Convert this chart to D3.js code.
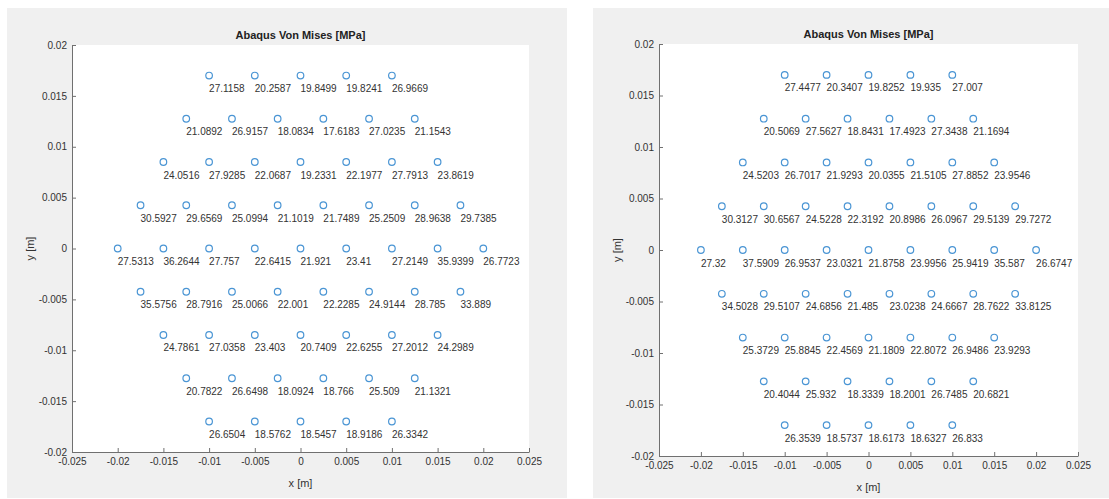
<!DOCTYPE html>
<html>
<head>
  <meta charset="utf-8" />
  <title>Abaqus Von Mises</title>
  <style>
    body { margin: 0; background: #fff; }
    svg { display: block; font-family: "Liberation Sans", Arial, sans-serif; }
  </style>
</head>
<body>
  <svg id="svg" width="1109" height="499"></svg>
  <script src="https://d3js.org/d3.v7.min.js"></script>
  <script>
    // node coordinates, one array per row of the mesh [m]
    const rowY = [0.017, 0.01275, 0.0085, 0.00425, 0, -0.00425, -0.0085, -0.01275, -0.017]
    const rowX = [
      [-0.01, -0.005, 0, 0.005, 0.01],
      [-0.0125, -0.0075, -0.0025, 0.0025, 0.0075, 0.0125],
      [-0.015, -0.01, -0.005, 0, 0.005, 0.01, 0.015],
      [-0.0175, -0.0125, -0.0075, -0.0025, 0.0025, 0.0075, 0.0125, 0.0175],
      [-0.02, -0.015, -0.01, -0.005, 0, 0.005, 0.01, 0.015, 0.02],
      [-0.0175, -0.0125, -0.0075, -0.0025, 0.0025, 0.0075, 0.0125, 0.0175],
      [-0.015, -0.01, -0.005, 0, 0.005, 0.01, 0.015],
      [-0.0125, -0.0075, -0.0025, 0.0025, 0.0075, 0.0125],
      [-0.01, -0.005, 0, 0.005, 0.01]
    ]

    // von mises stress per node [MPa], left figure
    const stressLeft = [
      [27.1158, 20.2587, 19.8499, 19.8241, 26.9669],
      [21.0892, 26.9157, 18.0834, 17.6183, 27.0235, 21.1543],
      [24.0516, 27.9285, 22.0687, 19.2331, 22.1977, 27.7913, 23.8619],
      [30.5927, 29.6569, 25.0994, 21.1019, 21.7489, 25.2509, 28.9638, 29.7385],
      [27.5313, 36.2644, 27.757, 22.6415, 21.921, 23.41, 27.2149, 35.9399, 26.7723],
      [35.5756, 28.7916, 25.0066, 22.001, 22.2285, 24.9144, 28.785, 33.889],
      [24.7861, 27.0358, 23.403, 20.7409, 22.6255, 27.2012, 24.2989],
      [20.7822, 26.6498, 18.0924, 18.766, 25.509, 21.1321],
      [26.6504, 18.5762, 18.5457, 18.9186, 26.3342]
    ]

    // right figure
    const stressRight = [
      [27.4477, 20.3407, 19.8252, 19.935, 27.007],
      [20.5069, 27.5627, 18.8431, 17.4923, 27.3438, 21.1694],
      [24.5203, 26.7017, 21.9293, 20.0355, 21.5105, 27.8852, 23.9546],
      [30.3127, 30.6567, 24.5228, 22.3192, 20.8986, 26.0967, 29.5139, 29.7272],
      [27.32, 37.5909, 26.9537, 23.0321, 21.8758, 23.9956, 25.9419, 35.587, 26.6747],
      [34.5028, 29.5107, 24.6856, 21.485, 23.0238, 24.6667, 28.7622, 33.8125],
      [25.3729, 25.8845, 22.4569, 21.1809, 22.8072, 26.9486, 23.9293],
      [20.4044, 25.932, 18.3339, 18.2001, 26.7485, 20.6821],
      [26.3539, 18.5737, 18.6173, 18.6327, 26.833]
    ]

    const xTicks = [-0.025, -0.02, -0.015, -0.01, -0.005, 0, 0.005, 0.01, 0.015, 0.02, 0.025]
    const yTicks = [-0.02, -0.015, -0.01, -0.005, 0, 0.005, 0.01, 0.015, 0.02]
    const title = 'Abaqus Von Mises [MPa]'

    const svg = d3.select('#svg')
    const fmt = d => String(+d.toFixed(3))

    drawPanel({ fig: [7, 8, 560, 490], ax: [72, 45, 529, 452], values: stressLeft })
    drawPanel({ fig: [593, 8, 516, 490], ax: [659, 44, 1078, 456], values: stressRight })

    function drawPanel(p) {
      const [l, t, r, b] = p.ax
      // figure background
      svg.append('rect')
        .attr('x', p.fig[0]).attr('y', p.fig[1])
        .attr('width', p.fig[2]).attr('height', p.fig[3])
        .attr('fill', '#f0f0f0')

      const x = d3.scaleLinear().domain([-0.025, 0.025]).range([l, r])
      const y = d3.scaleLinear().domain([-0.02, 0.02]).range([b, t])

      svg.append('rect')
        .attr('x', l).attr('y', t)
        .attr('width', r - l).attr('height', b - t)
        .attr('fill', '#fff')

      const gx = svg.append('g')
        .attr('transform', `translate(0,${b})`)
        .call(d3.axisBottom(x).tickValues(xTicks).tickFormat(fmt)
          .tickSizeInner(-4).tickSizeOuter(0).tickPadding(6))
      const gy = svg.append('g')
        .attr('transform', `translate(${l},0)`)
        .call(d3.axisLeft(y).tickValues(yTicks).tickFormat(fmt)
          .tickSizeInner(-4).tickSizeOuter(0).tickPadding(5))

      ;[gx, gy].forEach(g => {
        g.selectAll('path, line').attr('stroke', '#707070')
        g.selectAll('text').attr('fill', '#333').attr('font-size', 10)
          .attr('font-family', '"Liberation Sans", Arial, sans-serif')
      })

      svg.append('text')
        .attr('x', (l + r) / 2).attr('y', t - 6)
        .attr('text-anchor', 'middle')
        .attr('font-size', 11).attr('font-weight', 'bold')
        .attr('fill', '#222')
        .text(title)

      svg.append('text')
        .attr('x', (l + r) / 2).attr('y', b + 35)
        .attr('text-anchor', 'middle')
        .attr('font-size', 11).attr('fill', '#333')
        .text('x [m]')

      svg.append('text')
        .attr('transform', `translate(${l - 38},${(t + b) / 2}) rotate(-90)`)
        .attr('text-anchor', 'middle')
        .attr('font-size', 11).attr('fill', '#333')
        .text('y [m]')

      const nodes = []
      rowX.forEach((row, i) => row.forEach((xv, j) => {
        nodes.push({ x: xv, y: rowY[i], v: p.values[i][j] })
      }))

      svg.append('g').selectAll('circle')
        .data(nodes).join('circle')
        .attr('cx', d => x(d.x)).attr('cy', d => y(d.y))
        .attr('r', 3.3)
        .attr('fill', 'none')
        .attr('stroke', '#4a95d4')
        .attr('stroke-width', 1.2)

      svg.append('g').selectAll('text')
        .data(nodes).join('text')
        .attr('x', d => x(d.x)).attr('y', d => y(d.y) + 16.5)
        .attr('font-size', 10).attr('fill', '#333')
        .text(d => d.v)
    }
  </script>
</body>
</html>
